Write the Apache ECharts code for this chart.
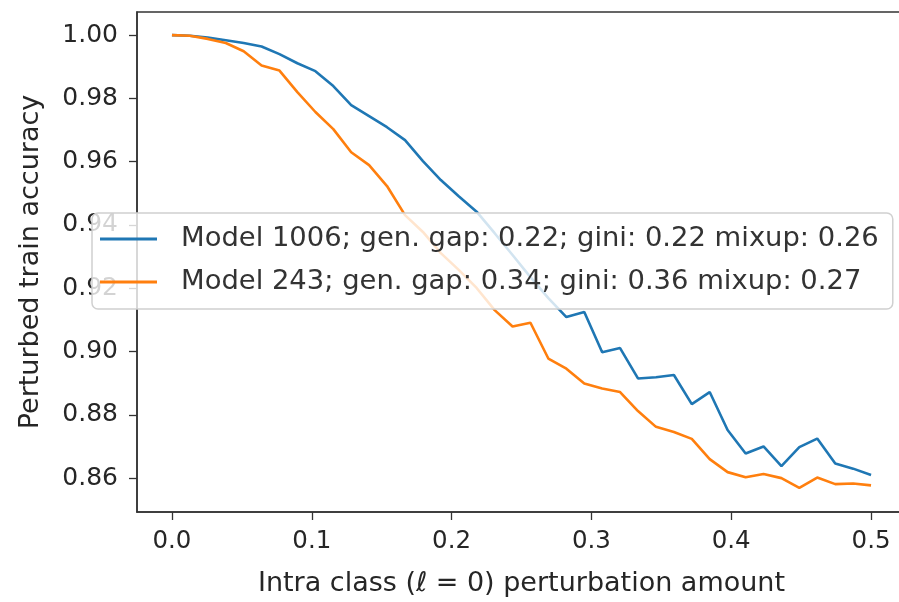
<!DOCTYPE html>
<html><head><meta charset="utf-8">
<script src="https://cdn.jsdelivr.net/npm/echarts@6/dist/echarts.min.js"></script>
<style>html,body{margin:0;padding:0;background:#fff}#c{width:899px;height:602px}</style>
</head><body><div id="c"></div>
<script>
const xValues = [0, 0.0128, 0.0256, 0.0385, 0.0513, 0.0641, 0.0769, 0.0897, 0.1026, 0.1154,
  0.1282, 0.1410, 0.1538, 0.1667, 0.1795, 0.1923, 0.2051, 0.2179, 0.2308, 0.2436,
  0.2564, 0.2692, 0.2821, 0.2949, 0.3077, 0.3205, 0.3333, 0.3462, 0.3590, 0.3718,
  0.3846, 0.3974, 0.4103, 0.4231, 0.4359, 0.4487, 0.4615, 0.4744, 0.4872, 0.5];
const model1006 = [1.0000, 0.9998, 0.9992, 0.9984, 0.9975, 0.9964, 0.9940, 0.9911, 0.9886, 0.9839,
  0.9779, 0.9744, 0.9709, 0.9668, 0.9602, 0.9542, 0.9491, 0.9442, 0.9374, 0.9305,
  0.9235, 0.9169, 0.9109, 0.9125, 0.8998, 0.9011, 0.8915, 0.8919, 0.8926, 0.8834,
  0.8872, 0.8752, 0.8678, 0.8700, 0.8638, 0.8698, 0.8725, 0.8646, 0.8630, 0.8610];
const model243 = [1.0000, 0.9998, 0.9988, 0.9975, 0.9949, 0.9904, 0.9888, 0.9820, 0.9757, 0.9703,
  0.9630, 0.9589, 0.9523, 0.9431, 0.9378, 0.9311, 0.9258, 0.9201, 0.9131, 0.9079,
  0.9091, 0.8978, 0.8946, 0.8899, 0.8883, 0.8872, 0.8812, 0.8762, 0.8746, 0.8724,
  0.8660, 0.8619, 0.8603, 0.8613, 0.8600, 0.8569, 0.8602, 0.8581, 0.8583, 0.8577];
const seriesNames = ["Model 1006; gen. gap: 0.22; gini: 0.22 mixup: 0.26",
                     "Model 243; gen. gap: 0.34; gini: 0.36 mixup: 0.27"];
const xTicks = [0, 0.1, 0.2, 0.3, 0.4, 0.5];
const yTicks = [0.86, 0.88, 0.90, 0.92, 0.94, 0.96, 0.98, 1.00];
const xTitle = "Intra class (\u2113 = 0) perturbation amount";
const yTitle = "Perturbed train accuracy";

const pairs = ys => xValues.map((x, i) => [x, ys[i]]);
const axisColor = '#333';
const textColor = '#262626';
const font = 'DejaVu Sans';

const chart = echarts.init(document.getElementById('c'), null, {renderer: 'canvas'});
chart.setOption({
  animation: false,
  backgroundColor: '#fff',
  textStyle: {fontFamily: font},
  grid: {left: 137, top: 12, width: 769, height: 500, show: true, outerBoundsMode: 'none',
         containLabel: false,
         borderColor: axisColor, borderWidth: 1.5, backgroundColor: 'transparent'},
  xAxis: {
    type: 'value', min: -0.025, max: 0.525,
    axisLine: {show: true, onZero: false, lineStyle: {color: axisColor, width: 1.5}},
    axisTick: {show: true, customValues: xTicks, length: 8, lineStyle: {color: axisColor, width: 1.3}},
    axisLabel: {customValues: xTicks, formatter: v => v.toFixed(1), fontSize: 24.5,
                color: textColor, margin: 17, fontFamily: font},
    splitLine: {show: false},
    name: xTitle, nameLocation: 'middle', nameGap: 58,
    nameTextStyle: {fontSize: 27, color: textColor, fontFamily: font}
  },
  yAxis: {
    type: 'value', min: 0.8493, max: 1.0073,
    axisLine: {show: true, onZero: false, lineStyle: {color: axisColor, width: 1.5}},
    axisTick: {show: true, customValues: yTicks, length: 8, lineStyle: {color: axisColor, width: 1.3}},
    axisLabel: {customValues: yTicks, formatter: v => v.toFixed(2), fontSize: 25,
                color: textColor, margin: 19, fontFamily: font},
    splitLine: {show: false},
    name: yTitle, nameLocation: 'middle', nameGap: 93, nameRotate: 90,
    nameTextStyle: {fontSize: 27, color: textColor, fontFamily: font}
  },
  legend: {
    orient: 'vertical', left: 92, top: 213,
    padding: [11, 14, 12, 8],
    itemWidth: 57, itemHeight: 3, icon: 'rect', itemGap: 13,
    selectedMode: false,
    backgroundColor: 'rgba(255,255,255,0.8)',
    borderColor: '#d0d0d0', borderWidth: 1.5, borderRadius: 6,
    textStyle: {fontSize: 27.4, color: '#333', fontFamily: font, padding: [0, 0, 0, 19], lineHeight: 30},
    data: seriesNames
  },
  series: [
    {name: seriesNames[0], type: 'line', data: pairs(model1006), showSymbol: false,
     color: '#1f77b4', lineStyle: {width: 2.6, color: '#1f77b4'}, z: 2},
    {name: seriesNames[1], type: 'line', data: pairs(model243), showSymbol: false,
     color: '#ff7f0e', lineStyle: {width: 2.6, color: '#ff7f0e'}, z: 3}
  ]
});
</script>
</body></html>
